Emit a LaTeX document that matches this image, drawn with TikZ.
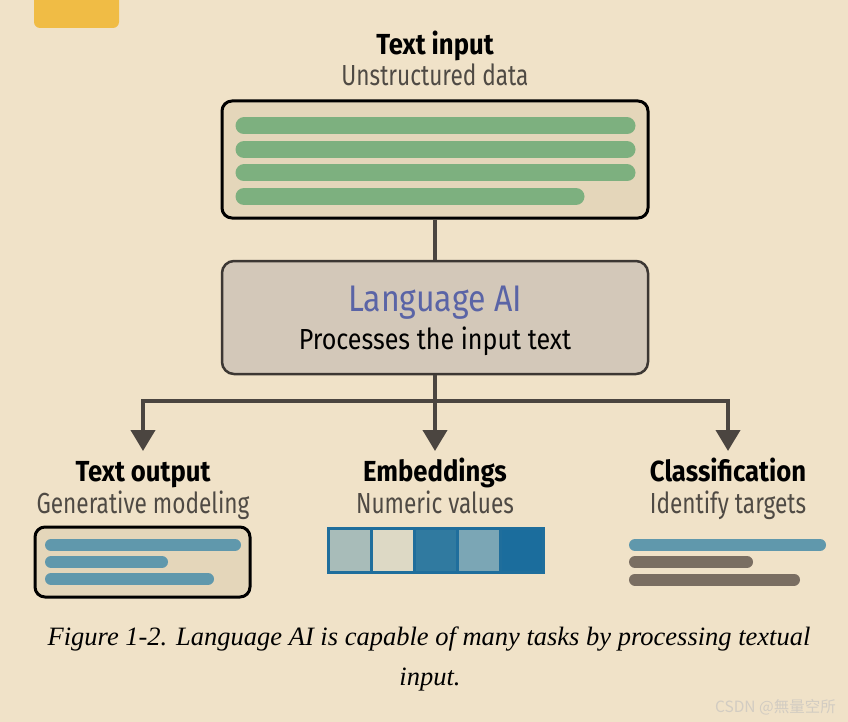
\documentclass[tikz,border=0pt]{standalone}
\usepackage{fontspec}
\usetikzlibrary{arrows.meta}
\newfontfamily\condsub[FakeStretch=0.78]{Fira Sans}
\newfontfamily\condb[FakeStretch=0.885]{Fira Sans}
\newfontfamily\condmid[FakeStretch=0.865]{Fira Sans}
\newfontfamily\capfont{Liberation Serif}
\newfontfamily\cjkfont{Noto Sans CJK SC}
\definecolor{bg}{HTML}{F0E2C8}
\definecolor{tab}{HTML}{F0BC45}
\definecolor{boxfill}{HTML}{E4D6BA}
\definecolor{midfill}{HTML}{D3C8B9}
\definecolor{ink}{HTML}{4B4540}
\definecolor{subgray}{HTML}{4F4A44}
\definecolor{green}{HTML}{7DB07F}
\definecolor{teal}{HTML}{6098AC}
\definecolor{grayb}{HTML}{7A6E62}
\definecolor{lai}{HTML}{5A64A6}
\definecolor{eborder}{HTML}{1F6E9C}
\definecolor{ca}{HTML}{A8BCB9}
\definecolor{cb}{HTML}{DDD9C5}
\definecolor{cc}{HTML}{307AA0}
\definecolor{cd}{HTML}{7BA6B5}
\definecolor{ce}{HTML}{1B6D9D}
\definecolor{wm}{HTML}{D2CCC2}
\tikzset{
  title/.style={font=\condb\bfseries\fontsize{29}{32}\selectfont, text=black, inner sep=0pt, anchor=base},
  subtitle/.style={font=\condsub\fontsize{29}{32}\selectfont, text=subgray, inner sep=0pt, anchor=base},
  panel/.style={draw=black, line width=3pt, fill=boxfill, rounded corners=10pt, inner sep=0pt},
  bar/.style={line cap=round},
  conn/.style={draw=ink, line width=4pt},
  arr/.style={conn, -{Triangle[width=24pt,length=21pt]}},
  cell/.style={draw=eborder, line width=3pt, minimum width=43pt, minimum height=44pt, inner sep=0pt}
}
\begin{document}
\begin{tikzpicture}[x=1pt,y=-1pt]
\fill[bg] (0,0) rectangle (848,722);
\useasboundingbox (0,0) rectangle (848,722);
% yellow tab
\fill[tab, rounded corners=6pt] (34,-10) rectangle (119,28);
% top
\node[title] (tin) at (435,55) {Text input};
\node[subtitle] (tins) at (435,86) {Unstructured data};
\node[panel, minimum width=426pt, minimum height=117pt] (inbox) at (435,159.5) {};
\foreach \y/\e in {126/627, 149.5/627, 173/627, 196.5/576}
  \draw[bar, green, line width=17pt] (244,\y) -- (\e,\y);
% middle
\node[draw=ink!80!black, line width=2.5pt, fill=midfill, rounded corners=12pt, minimum width=426pt, minimum height=113pt, inner sep=0pt] (lang) at (435,317.5) {};
\node[font=\condmid\fontsize{37}{42}\selectfont, text=lai, inner sep=0pt, anchor=base] (laititle) at (435,311) {Language AI};
\node[font=\condmid\fontsize{29}{32}\selectfont, text=black, inner sep=0pt, anchor=base] (laisub) at (435,349) {Processes the input text};
\draw[conn] (inbox.south) -- (lang.north);
% branches
\coordinate (br) at (435,401);
\coordinate (t1) at (143,451);
\coordinate (t2) at (435,451);
\coordinate (t3) at (728,451);
\draw[conn] (lang.south) -- (br);
\draw[arr] (br) -| (t1);
\draw[arr] (br) -- (t2);
\draw[arr] (br) -| (t3);
% titles
\node[title] (o1) at (143,481) {Text output};
\node[subtitle] (o1s) at (143,513) {Generative modeling};
\node[title] (o2) at (435,481) {Embeddings};
\node[subtitle] (o2s) at (435,513) {Numeric values};
\node[title] (o3) at (728,481) {Classification};
\node[subtitle] (o3s) at (728,513) {Identify targets};
% text output box
\node[panel, minimum width=215pt, minimum height=70pt] (outbox) at (142.5,562) {};
\draw[bar, teal, line width=12pt] (51,545) -- (235,545);
\draw[bar, teal, line width=12pt] (51,562) -- (162,562);
\draw[bar, teal, line width=12pt] (51,579) -- (208,579);
% embeddings
\node[cell, fill=ca] (e1) at (349.5,550) {};
\node[cell, fill=cb] (e2) at (392.5,550) {};
\node[cell, fill=cc] (e3) at (435.5,550) {};
\node[cell, fill=cd] (e4) at (478.5,550) {};
\node[cell, fill=ce] (e5) at (521.5,550) {};
% classification
\draw[bar, teal, line width=12pt] (635,545) -- (820,545);
\draw[bar, grayb, line width=12pt] (635,562) -- (747,562);
\draw[bar, grayb, line width=12pt] (635,579.5) -- (794,579.5);
% caption
\node[font=\capfont\itshape\fontsize{26.5}{30}\selectfont, inner sep=0pt, anchor=base] (cap1) at (429,645) {Figure 1-2. Language AI is capable of many tasks by processing textual};
\node[font=\capfont\itshape\fontsize{26.5}{30}\selectfont, inner sep=0pt, anchor=base] (cap2) at (430,685) {input.};
% watermark
\node[font=\cjkfont\fontsize{15.5}{18}\selectfont, text=wm, inner sep=0pt, anchor=base east] (wmk) at (836,712) {CSDN @無量空所};
\end{tikzpicture}
\end{document}
